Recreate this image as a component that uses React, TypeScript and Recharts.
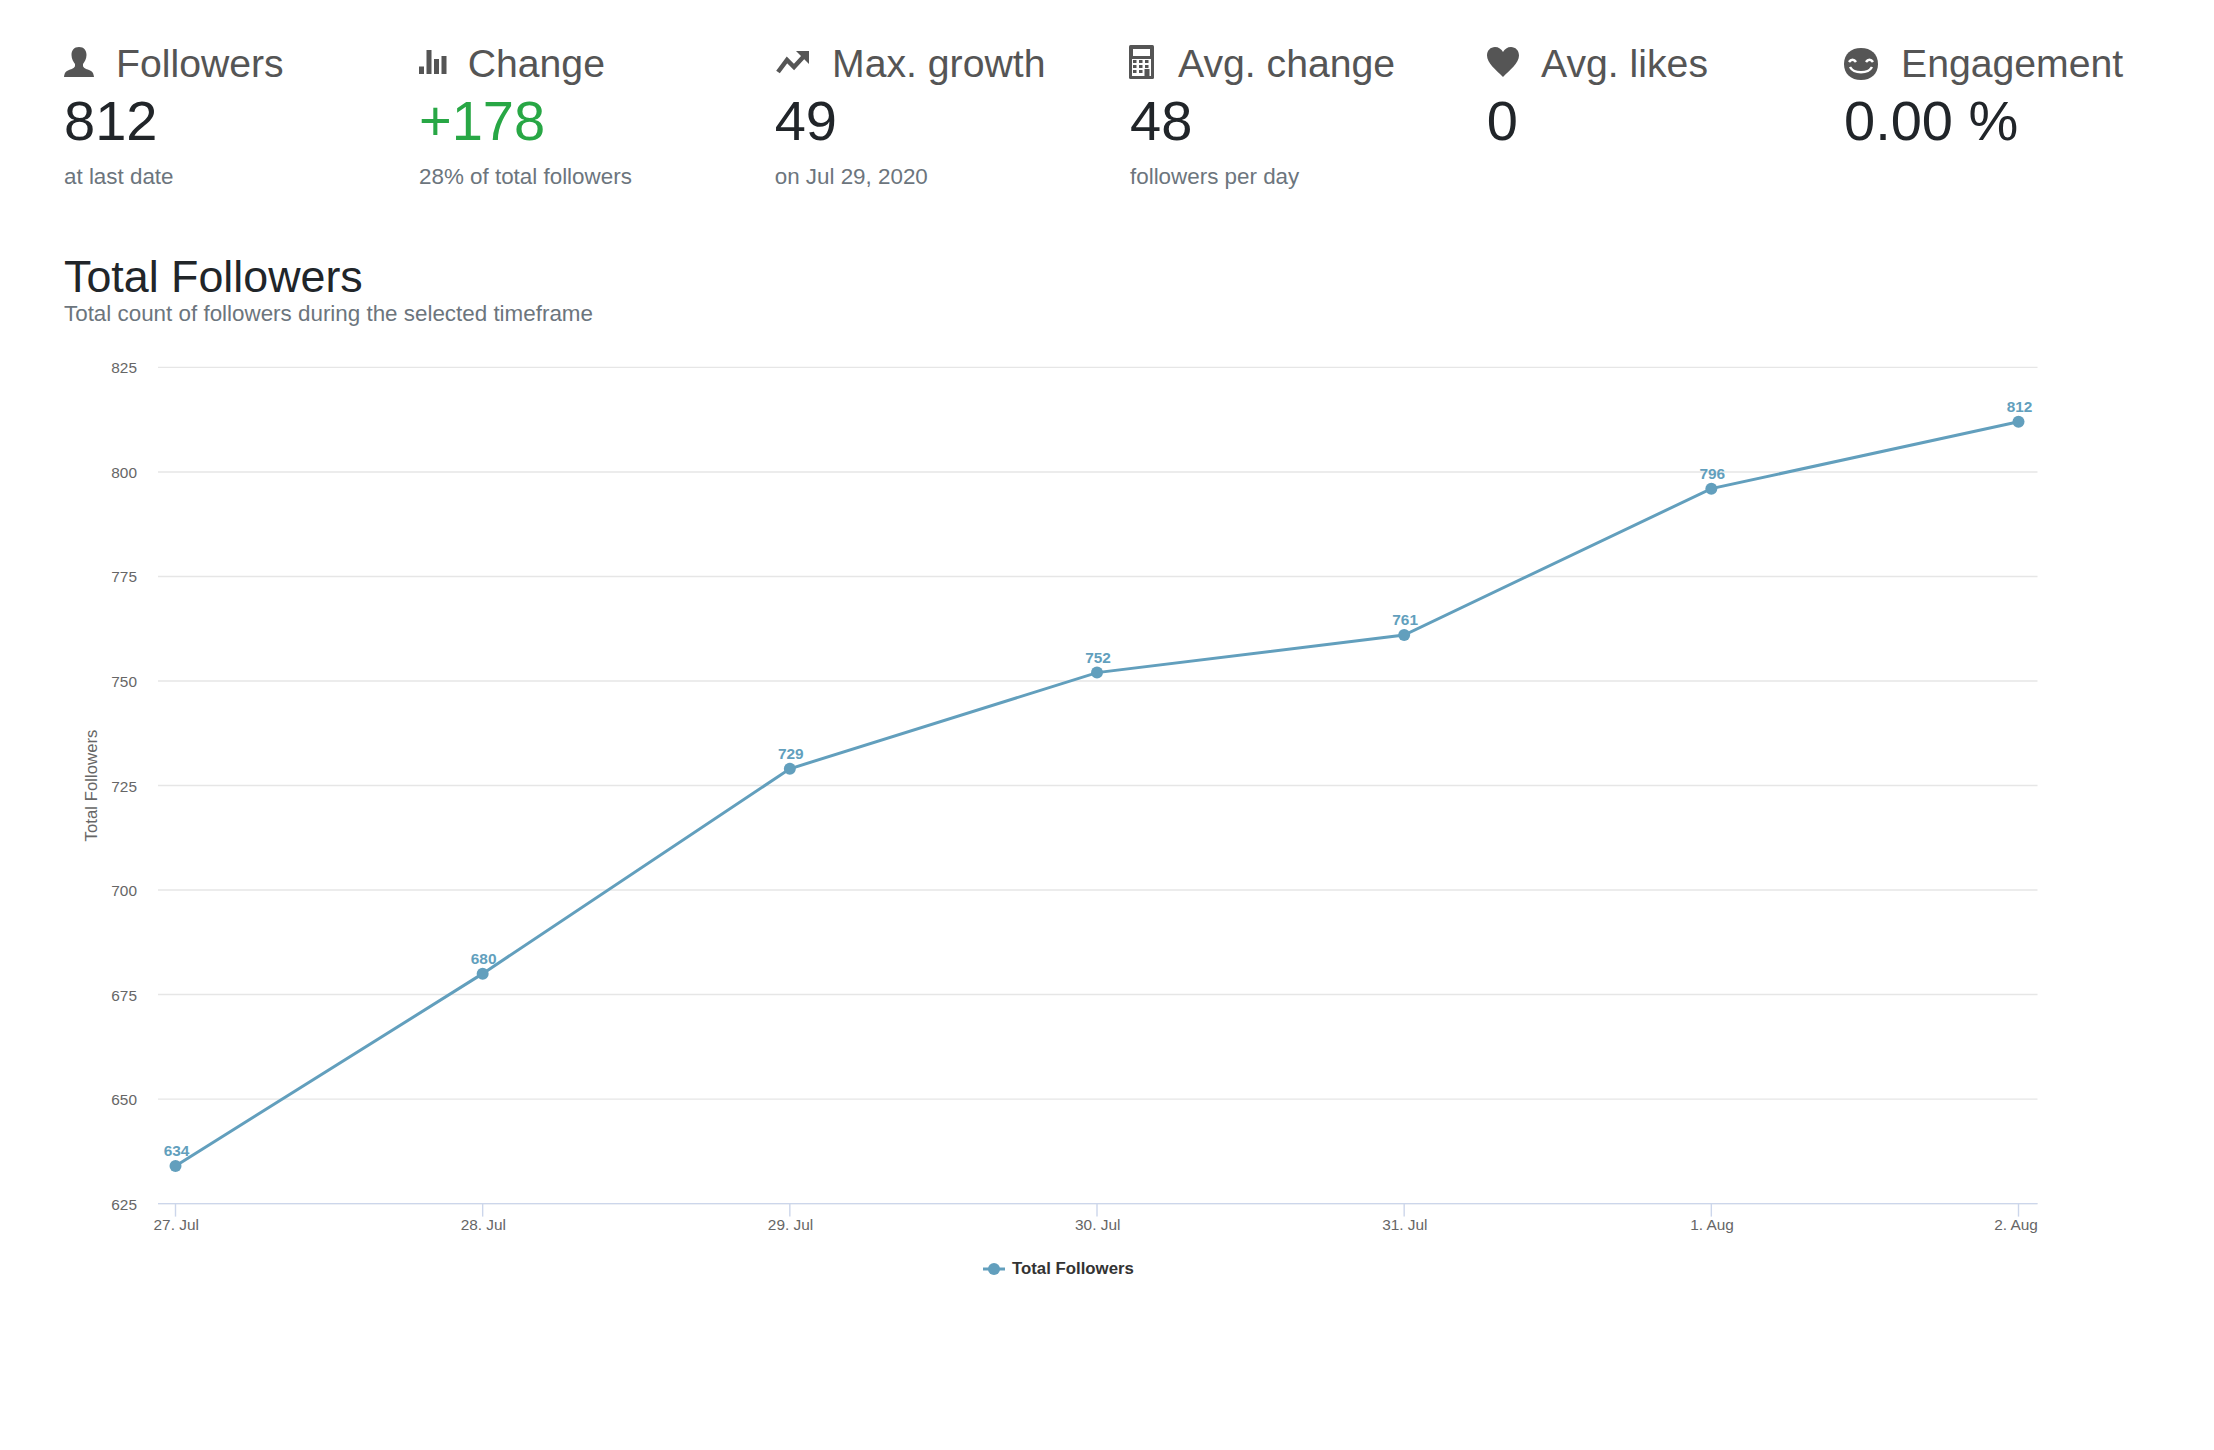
import React from 'react';
import {
  LineChart,
  Line,
  XAxis,
  YAxis,
  CartesianGrid,
  Legend,
  LabelList,
} from 'recharts';

const FONT = '"Liberation Sans", Arial, sans-serif';
const LINE_COLOR = '#629fbd';

const days = ['27. Jul', '28. Jul', '29. Jul', '30. Jul', '31. Jul', '1. Aug', '2. Aug'];
const followers = [634, 680, 729, 752, 761, 796, 812];
const yTicks = [625, 650, 675, 700, 725, 750, 775, 800, 825];

const statTitles = ['Followers', 'Change', 'Max. growth', 'Avg. change', 'Avg. likes', 'Engagement'];
const statValues = ['812', '+178', '49', '48', '0', '0.00 %'];
const statNotes = ['at last date', '28% of total followers', 'on Jul 29, 2020', 'followers per day', '', ''];
const statLeft = [64, 419, 774.7, 1130, 1486.7, 1844];
const statTitleLeft = [116, 467.7, 832, 1178, 1541, 1901];

const chartData = days.map((day, i) => ({ day, followers: followers[i] }));

function PersonIcon() {
  return (
    <svg width="32" height="32" viewBox="0 0 32 32" fill="#555">
      <path d="M16 1c5 0 7.500 3.500 7.500 8 0 4-2 7-3.500 9v2c0 1.500 3 3 6 4 3 1 4.500 2.500 5 7H1c.5-4.500 2-6 5-7s6-2.500 6-4v-2c-1.500-2-3.500-5-3.500-9C8.500 4.500 11 1 16 1z" />
    </svg>
  );
}

function BarsIcon() {
  return (
    <svg width="30" height="32" viewBox="0 0 30 32" fill="#555">
      <rect x="1" y="20.500" width="5" height="7.500" />
      <rect x="8.500" y="4" width="5" height="24" />
      <rect x="16" y="13" width="5" height="15" />
      <rect x="23.500" y="10" width="5" height="18" />
    </svg>
  );
}

function TrendIcon() {
  return (
    <svg width="36" height="32" viewBox="0 0 36 32" fill="none" stroke="#555" strokeWidth="4.500">
      <path d="M4 26 L13 14 L20 21 L31 9" />
      <path d="M22 5 L35 5 L35 18 Z" fill="#555" stroke="none" />
    </svg>
  );
}

function CalculatorIcon() {
  return (
    <svg width="25" height="34" viewBox="0 0 25 34">
      <rect width="25" height="34" rx="1.500" fill="#555" />
      <rect x="4" y="4" width="17" height="7" fill="#fff" />
      <rect x="3" y="14" width="19" height="17" fill="#fff" />
      {[15, 20, 25].map((y) =>
        [4, 10, 16].map((x) => (
          <rect key={`${x}-${y}`} x={x} y={y} width="3.500" height="3" fill="#555" />
        ))
      )}
      <rect x="15.500" y="24" width="5" height="7" fill="#555" />
    </svg>
  );
}

function HeartIcon() {
  return (
    <svg width="34" height="32" viewBox="0 0 34 32" fill="#555">
      <path d="M17 31C10 24 1 17 1 9.500 1 4.500 4.500 1 9 1c3.500 0 6.500 2 8 5 1.500-3 4.500-5 8-5 4.500 0 8 3.500 8 8.500C33 17 24 24 17 31z" />
    </svg>
  );
}

function SmileIcon() {
  return (
    <svg width="36" height="34" viewBox="0 0 36 34">
      <path d="M18 1C28 1 35 7 35 17s-7 16-17 16S1 27 1 17 8 1 18 1z" fill="#555" />
      <path d="M6 15c2-3 5-3 7 0M23 15c2-3 5-3 7 0M7 20c4 7 18 7 22 0" fill="none" stroke="#fff" strokeWidth="2.500" />
    </svg>
  );
}

const statIcons = [
  { el: <PersonIcon />, top: 46 },
  { el: <BarsIcon />, top: 46 },
  { el: <TrendIcon />, top: 46 },
  { el: <CalculatorIcon />, top: 45 },
  { el: <HeartIcon />, top: 46 },
  { el: <SmileIcon />, top: 47 },
];

function textStyle(left: number, center: number, size: number, color: string): React.CSSProperties {
  return {
    position: 'absolute',
    left,
    top: center - size * 0.75,
    fontSize: size,
    lineHeight: `${size * 1.5}px`,
    color,
    whiteSpace: 'nowrap',
  };
}

function XTick({ x, y, payload, index }: any) {
  return (
    <text
      x={index === days.length - 1 ? x - 2.5 : x + 0.7}
      y={y}
      dy={11}
      textAnchor="middle"
      fontSize={15.4}
      fontFamily={FONT}
      fill="#666"
    >
      {payload.value}
    </text>
  );
}

function YTick({ x, y, payload }: any) {
  return (
    <text x={x} y={y} dy={6} textAnchor="end" fontSize={15.4} fontFamily={FONT} fill="#666">
      {payload.value}
    </text>
  );
}

function LegendContent() {
  return (
    <div style={{ position: 'relative', height: 20, width: 160, fontFamily: FONT }}>
      <svg width="24" height="20" style={{ position: 'absolute', left: 0, top: 0 }}>
        <line x1="1" x2="23" y1="10" y2="10" stroke={LINE_COLOR} strokeWidth="3" />
        <circle cx="12" cy="10" r="6" fill={LINE_COLOR} />
      </svg>
      <span
        style={{
          position: 'absolute',
          left: 30,
          top: 0,
          fontSize: 16.8,
          lineHeight: '20px',
          fontWeight: 700,
          color: '#333',
          whiteSpace: 'nowrap',
        }}
      >
        Total Followers
      </span>
    </div>
  );
}

export default function App() {
  return (
    <div
      style={{
        position: 'absolute',
        left: 0,
        top: 0,
        width: 2214,
        height: 1450,
        background: '#fff',
        fontFamily: FONT,
      }}
    >
      {statTitles.map((title, i) => (
        <React.Fragment key={title}>
          <div style={{ position: 'absolute', left: statLeft[i] - 1, top: statIcons[i].top, lineHeight: 0 }}>
            {statIcons[i].el}
          </div>
          <div style={textStyle(statTitleLeft[i], 64.8, 39.2, '#555')}>{title}</div>
          <div style={textStyle(statLeft[i], 121.4, 56, i === 1 ? '#28a745' : '#212529')}>{statValues[i]}</div>
          {statNotes[i] && <div style={textStyle(statLeft[i], 176.6, 22.4, '#6c757d')}>{statNotes[i]}</div>}
        </React.Fragment>
      ))}
      <div style={textStyle(64, 276.4, 44.8, '#212529')}>Total Followers</div>
      <div style={textStyle(64, 314, 22.4, '#6c757d')}>Total count of followers during the selected timeframe</div>

      <div style={{ position: 'absolute', left: 0, top: 0 }}>
        <LineChart
          width={2214}
          height={1450}
          data={chartData}
          margin={{ top: 367.4, right: 176.5, bottom: 186.4, left: 0 }}
        >
          <CartesianGrid horizontal vertical={false} stroke="#e6e6e6" strokeWidth={1.4} />
          <XAxis
            dataKey="day"
            height={40}
            interval={0}
            padding={{ left: 17.5, right: 19 }}
            stroke="#ccd6eb"
            strokeWidth={1.4}
            tickSize={13}
            tick={<XTick />}
          />
          <YAxis
            width={158}
            domain={[625, 825]}
            ticks={yTicks}
            interval={0}
            axisLine={false}
            tickLine={false}
            tickSize={0}
            tickMargin={21}
            tick={<YTick />}
            label={{
              value: 'Total Followers',
              angle: -90,
              position: 'insideLeft',
              offset: 91.5,
              style: { fontSize: 16.8, fontFamily: FONT, fill: '#666', textAnchor: 'middle' },
            }}
          />
          <Legend
            verticalAlign="bottom"
            height={20}
            content={<LegendContent />}
            wrapperStyle={{ left: 982, top: 1259.4, width: 160 }}
          />
          <Line
            type="linear"
            dataKey="followers"
            name="Total Followers"
            stroke={LINE_COLOR}
            strokeWidth={3}
            dot={{ r: 6, fill: LINE_COLOR, stroke: LINE_COLOR, strokeWidth: 0, fillOpacity: 1 }}
            isAnimationActive={false}
          >
            <LabelList
              dataKey="followers"
              position="top"
              offset={10}
              dx={1}
              style={{ fontSize: 15.4, fontWeight: 700, fontFamily: FONT, fill: LINE_COLOR }}
            />
          </Line>
        </LineChart>
      </div>
    </div>
  );
}
